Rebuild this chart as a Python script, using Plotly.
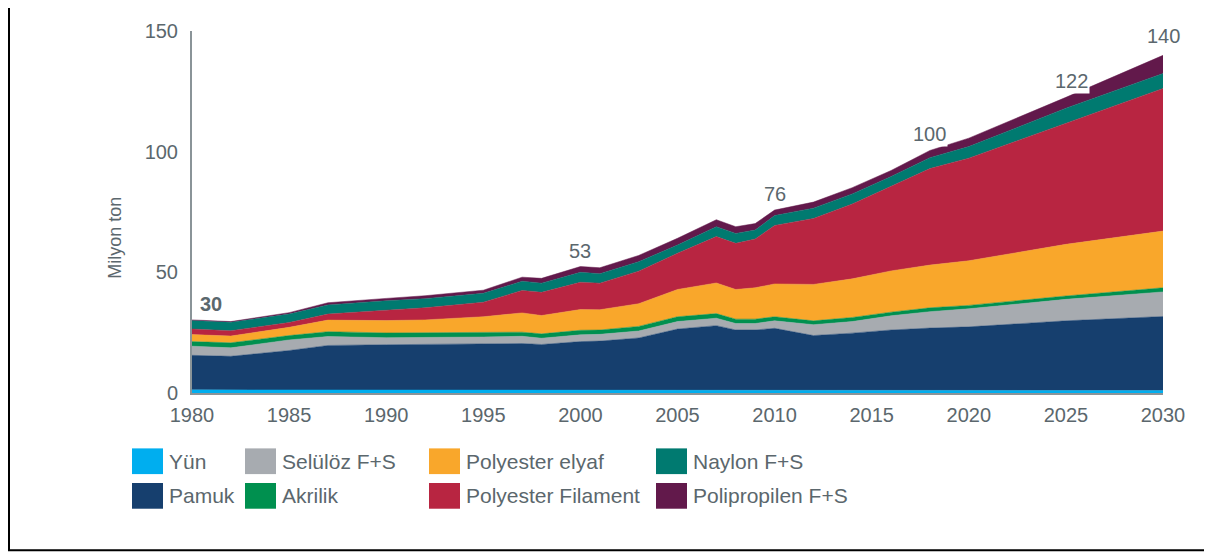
import plotly.graph_objects as go

# Küresel lif üretimi (milyon ton)
years = [1980, 1982, 1985, 1987, 1990, 1992, 1995, 1997, 1998, 2000, 2001, 2003,
         2005, 2007, 2008, 2009, 2010, 2012, 2014, 2016, 2018, 2020, 2025, 2030]

yun = [1.3, 1.3, 1.3, 1.3, 1.3, 1.3, 1.2, 1.2, 1.2, 1.2, 1.1, 1.1,
       1.1, 1.1, 1.1, 1.1, 1.1, 1.1, 1.1, 1.1, 1.1, 1.1, 1.0, 1.0]
pamuk = [14.3, 13.9, 16.3, 18.4, 18.7, 18.8, 19.2, 19.3, 18.9, 20.1, 20.4, 21.7,
         25.4, 26.8, 25.0, 25.0, 25.7, 22.7, 23.7, 25.0, 25.8, 26.3, 28.9, 30.7]
seluloz = [3.8, 3.5, 4.4, 3.7, 2.9, 2.8, 2.8, 3.0, 2.6, 2.8, 2.8, 2.9,
           3.1, 3.1, 2.7, 2.7, 3.1, 4.5, 4.8, 5.9, 6.8, 7.5, 8.9, 10.2]
akrilik = [1.9, 2.1, 1.8, 2.0, 2.0, 2.0, 1.9, 1.7, 1.8, 1.9, 1.8, 1.9,
           2.0, 1.9, 1.8, 1.8, 1.7, 1.6, 1.7, 1.5, 1.6, 1.4, 1.4, 1.7]
pes_elyaf = [2.9, 2.8, 3.4, 4.8, 5.1, 5.4, 6.5, 8.0, 7.6, 8.6, 8.4, 9.4,
             11.3, 12.7, 12.3, 13.0, 13.6, 15.1, 16.0, 17.1, 17.7, 18.5, 21.4, 23.5]
pes_filament = [2.3, 2.2, 2.0, 2.5, 4.3, 5.0, 6.0, 9.3, 9.6, 11.3, 11.0, 13.5,
                15.0, 19.2, 19.1, 20.2, 24.2, 27.3, 31.0, 35.0, 40.0, 42.5, 50.3, 59.1]
naylon = [3.5, 3.5, 3.5, 3.8, 3.9, 3.8, 3.7, 3.8, 3.8, 4.1, 3.9, 3.9,
          3.4, 4.1, 4.1, 3.7, 4.1, 4.3, 4.2, 4.1, 4.5, 4.8, 6.1, 6.2]
polipropilen = [0.3, 0.3, 0.6, 0.9, 1.0, 1.2, 1.3, 1.7, 2.0, 2.4, 2.5, 2.6,
                2.8, 2.9, 2.8, 2.7, 2.3, 2.5, 2.6, 2.5, 3.0, 3.5, 4.5, 7.5]

label_years = [1980, 2000, 2010, 2018, 2025, 2030]
label_texts = ["<b>30</b>", "53", "76", "100", "122", "140"]

x_ticks = [1980, 1985, 1990, 1995, 2000, 2005, 2010, 2015, 2020, 2025, 2030]
y_ticks = [0, 50, 100, 150]

FONT = "Liberation Sans, Arial, sans-serif"
GREY = "#5b676d"
FS = 20

# stacking order: bottom -> top
series = [
    ("Yün", yun, "#00aeef"),
    ("Pamuk", pamuk, "#163f6e"),
    ("Selülöz F+S", seluloz, "#a7abb0"),
    ("Akrilik", akrilik, "#00904f"),
    ("Polyester elyaf", pes_elyaf, "#f9a72b"),
    ("Polyester Filament", pes_filament, "#b82541"),
    ("Naylon F+S", naylon, "#007a70"),
    ("Polipropilen F+S", polipropilen, "#62194b"),
]

fig = go.Figure()
for name, vals, color in series:
    fig.add_trace(go.Scatter(
        x=years, y=vals, name=name, mode="lines",
        stackgroup="one", line=dict(width=0.5, color=color),
        fillcolor=color, showlegend=False,
    ))

# page has an 8px body margin; positions below are in page pixels
OFF = 8
W, H = 1212 - OFF, 555 - OFF
L, R, T, B = 192 - OFF, 1163 - OFF, 27 - OFF, 393 - OFF


def px(x):
    return (x - OFF - L) / (R - L)


def py(y):
    return (B - (y - OFF)) / (B - T)


totals = [sum(v) for v in zip(*[s[1] for s in series])]
for yr, txt in zip(label_years, label_texts):
    i = years.index(yr)
    fig.add_annotation(
        x=yr, y=totals[i], text=txt, showarrow=False,
        yanchor="bottom", yshift=6 if yr == 2030 else 3,
        xshift=19 if yr == 1980 else (6 if yr == 2025 else 0),
        bgcolor="white", borderpad=1,
        font=dict(family=FONT, size=FS, color=GREY),
    )

# y-axis title
fig.add_annotation(
    x=px(115), y=py(236), xref="paper", yref="paper", text="Milyon ton",
    xanchor="center", yanchor="middle",
    textangle=-90, showarrow=False, font=dict(family=FONT, size=18, color=GREY),
)

# manual legend (two rows, four columns)
legend_layout = [
    ("Yün", 132, 449), ("Pamuk", 132, 484),
    ("Selülöz F+S", 245, 449), ("Akrilik", 245, 484),
    ("Polyester elyaf", 429, 449), ("Polyester Filament", 429, 484),
    ("Naylon F+S", 656, 449), ("Polipropilen F+S", 656, 484),
]
colors = {s[0]: s[2] for s in series}
for name, x0, y0 in legend_layout:
    fig.add_shape(
        type="rect", xref="paper", yref="paper",
        x0=px(x0), x1=px(x0 + 31), y0=py(y0), y1=py(y0 + 26),
        fillcolor=colors[name], line=dict(width=0),
    )
    fig.add_annotation(
        x=px(x0 + 35), y=py(y0 + 13), xref="paper", yref="paper",
        text=name, showarrow=False, xanchor="left", yanchor="middle",
        font=dict(family=FONT, size=21, color=GREY),
    )

# outer frame (left and bottom edges visible)
fig.add_shape(
    type="rect", xref="paper", yref="paper",
    x0=px(OFF + 1), x1=px(1240), y0=py(552), y1=py(-10),
    line=dict(color="black", width=2),
)

fig.update_layout(
    width=W, height=H,
    margin=dict(l=L, r=W - R, t=T, b=H - B),
    plot_bgcolor="white", paper_bgcolor="white",
    showlegend=False,
    font=dict(family=FONT, size=FS, color=GREY),
    xaxis=dict(
        range=[1980, 2030], tickvals=x_ticks, showgrid=False, zeroline=False,
        showline=True, linecolor="#8a9498", linewidth=2, ticks="",
        ticklabelstandoff=3,
        tickfont=dict(family=FONT, size=FS, color=GREY),
    ),
    yaxis=dict(
        range=[0, 150], tickvals=y_ticks, showgrid=False, zeroline=False,
        showline=True, linecolor="#8a9498", linewidth=2, ticks="",
        ticklabelstandoff=8,
        tickfont=dict(family=FONT, size=FS, color=GREY),
    ),
)

fig.write_html("out.html")
